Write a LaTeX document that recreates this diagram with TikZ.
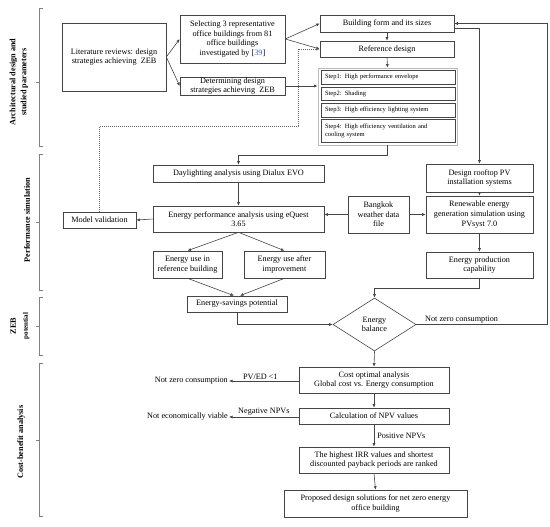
\documentclass[tikz,border=0pt]{standalone}
\usepackage{fontspec}
\setmainfont{Liberation Serif}
\usetikzlibrary{arrows.meta,shapes.geometric,calc}
\definecolor{linec}{HTML}{454545}
\definecolor{refblue}{HTML}{3A66C4}
\begin{document}
\begin{tikzpicture}[x=1pt,y=-1pt,
  box/.style={draw=linec, line width=0.6pt, align=center, inner sep=0pt,
    font=\fontsize{8.2}{9.6}\selectfont},
  stepbox/.style={draw=linec, line width=0.6pt, align=left, inner sep=0pt,
    minimum width=134pt, text width=134pt, font=\fontsize{6.5}{8}\selectfont},
  txt/.style={inner sep=1pt, font=\fontsize{8.2}{9.6}\selectfont},
  lbl/.style={rotate=90, align=center, inner sep=0pt,
    font=\bfseries\fontsize{8.2}{11}\selectfont},
  arr/.style={draw=linec, line width=0.6pt, -{Latex[length=3.5pt,width=3pt]}},
  brk/.style={draw=gray, line width=0.7pt}
]
\useasboundingbox (0,0) rectangle (550,527);

% brackets and section labels
\draw[brk] (43,8) -- (39,8) -- (39,146) -- (43,146);
\draw[brk] (39,82) -- (36,82);
\draw[brk] (43,154) -- (39,154) -- (39,290) -- (43,290);
\draw[brk] (39,222) -- (36,222);
\draw[brk] (43,297) -- (39,297) -- (39,355) -- (43,355);
\draw[brk] (39,326) -- (36,326);
\draw[brk] (43,363) -- (39,363) -- (39,516) -- (43,516);
\draw[brk] (39,440) -- (36,440);

\node[lbl] (l1) at (19,82) {Architectural design and\\studied parameters};
\node[lbl] (l2) at (27,220) {Performance simulation};
\node[lbl, font=\bfseries\fontsize{8.2}{12}\selectfont] (l3) at (20,326) {ZEB\\{\fontsize{7}{8}\selectfont potential}};
\node[lbl] (l4) at (21,442) {Cost-benefit analysis};

% top section
\node[box, minimum width=104pt, minimum height=68pt] (lit) at (114,57)
  {Literature reviews: design\\strategies achieving\ \ ZEB};
\node[box, minimum width=105pt, minimum height=48pt] (sel) at (232.5,39)
  {Selecting 3 representative\\office buildings from 81\\office buildings\\investigated by [{\color{refblue}39}]};
\node[box, minimum width=105pt, minimum height=18pt] (det) at (232.5,86)
  {Determining design\\strategies achieving\ \ ZEB};
\node[box, minimum width=134pt, minimum height=17pt] (bform) at (387,23.5)
  {Building form and its sizes};
\node[box, minimum width=134pt, minimum height=16pt] (refd) at (387,49)
  {Reference design};
\node[draw=gray!55, line width=0.8pt, minimum width=139pt, minimum height=77pt, inner sep=0pt] (so) at (387.5,106.5) {};
\node[stepbox, minimum height=14pt] (s1) at (388,77)
  {\hspace*{4pt}Step1: High performance envelope};
\node[stepbox, minimum height=13pt] (s2) at (388,93.5)
  {\hspace*{4pt}Step2: Shading};
\node[stepbox, minimum height=14pt] (s3) at (388,110)
  {\hspace*{4pt}Step3: High efficiency lighting system};
\node[stepbox, minimum height=23pt] (s4) at (388,130.5)
  {\hspace*{4pt}Step4: High efficiency ventilation and\\\hspace*{4pt}cooling system};

% simulation section
\node[box, minimum width=171pt, minimum height=17pt] (day) at (238.5,173.5)
  {Daylighting analysis using Dialux EVO};
\node[box, minimum width=171pt, minimum height=26pt] (eperf) at (238.5,219)
  {Energy performance analysis using eQuest\\3.65};
\node[box, minimum width=73pt, minimum height=16pt] (mval) at (99.5,220)
  {Model validation};
\node[box, minimum width=61pt, minimum height=37pt] (bkk) at (378.5,214.5)
  {Bangkok\\weather data\\file};
\node[box, minimum width=107pt, minimum height=28pt] (roof) at (479.5,178)
  {Design rooftop PV\\installation systems};
\node[box, minimum width=107pt, minimum height=37pt] (renew) at (479.5,214.5)
  {Renewable energy\\generation simulation using\\PVsyst 7.0};
\node[box, minimum width=107pt, minimum height=26pt] (eprod) at (479.5,265)
  {Energy production\\capability};
\node[box, minimum width=69pt, minimum height=27pt] (euref) at (187.5,264.5)
  {Energy use in\\reference building};
\node[box, minimum width=81pt, minimum height=27pt] (euaft) at (284.5,264.5)
  {Energy use after\\improvement};

% ZEB potential
\node[box, minimum width=100pt, minimum height=16pt] (esav) at (237,304)
  {Energy-savings potential};
\node[box, shape=diamond, minimum width=83pt, minimum height=53pt] (dia) at (374.5,324.5)
  {Energy\\balance};

% cost-benefit
\node[box, minimum width=150pt, minimum height=26pt] (cost) at (374,380)
  {Cost optimal analysis\\Global cost vs. Energy consumption};
\node[box, minimum width=150pt, minimum height=16pt] (npv) at (374,416)
  {Calculation of NPV values};
\node[box, minimum width=150pt, minimum height=26pt] (irr) at (374,460)
  {The highest IRR values and shortest\\discounted payback periods are ranked};
\node[box, minimum width=183pt, minimum height=27pt] (prop) at (375.5,503.5)
  {Proposed design solutions for net zero energy\\office building};

\node[txt, anchor=east] (nz2) at (229,381) {Not zero consumption};
\node[txt, anchor=east] (nev) at (229,417) {Not economically viable};

\coordinate (d1) at (298,126);
\coordinate (rloop) at (547,0);

% connectors
\draw[arr] (lit.east) -- (sel.west);
\draw[arr] (lit.east) -- (det.west);
\draw[arr] (sel.east) -- (bform.west);
\draw[arr] (sel.east) -- (refd.west);
\draw[arr] (bform.south) -- (refd.north);
\draw[arr] (refd.south) -- (so.north);
\draw[arr] (det.east) -- (det.east -| so.west);
\draw[arr, draw=gray!80!black, line width=0.5pt, dash pattern=on 1pt off 1pt] (mval.north) |- (d1) |- (refd.west);
\draw[arr] (so.south) -- ++(0,10) -| (day.north);
\draw[arr] (day.south) -- (eperf.north);
\draw[arr] (eperf.west) -- (mval.east);
\draw[arr] (bkk.west) -- (bkk.west -| eperf.east);
\draw[arr] (bkk.east) -- (renew.west);
\draw[arr] ([yshift=-4.5pt]bform.east) -| (roof.north);
\draw[arr] (roof.south) -- (renew.north);
\draw[arr] (renew.south) -- (eprod.north);
\draw[arr] (eprod.south) -- ++(0,10) -| (dia.north);
\draw[arr] (eperf.south) -- (euref.north);
\draw[arr] (eperf.south) -- (euaft.north);
\draw[arr] (euref.south) -- ([xshift=-3pt]esav.north);
\draw[arr] (euaft.south) -- ([xshift=3pt]esav.north);
\draw[arr] (esav.south) |- (dia.west);
\draw[arr] (dia.east) -- (dia.east -| rloop) |- (bform.east);
\node[txt, anchor=south west] (nzlbl) at (424,324) {Not zero consumption};
\draw[arr] (dia.south) -- (cost.north);
\draw[arr] (cost.west |- nz2.east) -- node[txt, above, pos=0.55] {PV/ED <1} (nz2.east);
\draw[arr] (cost.south) -- (npv.north);
\draw[arr] (npv.west |- nev.east) -- node[txt, above, pos=0.5] {Negative NPVs} (nev.east);
\draw[arr] (npv.south) -- node[txt, right, xshift=2pt] {Positive NPVs} (irr.north);
\draw[arr] (irr.south) -- (prop.north);
\end{tikzpicture}
\end{document}
